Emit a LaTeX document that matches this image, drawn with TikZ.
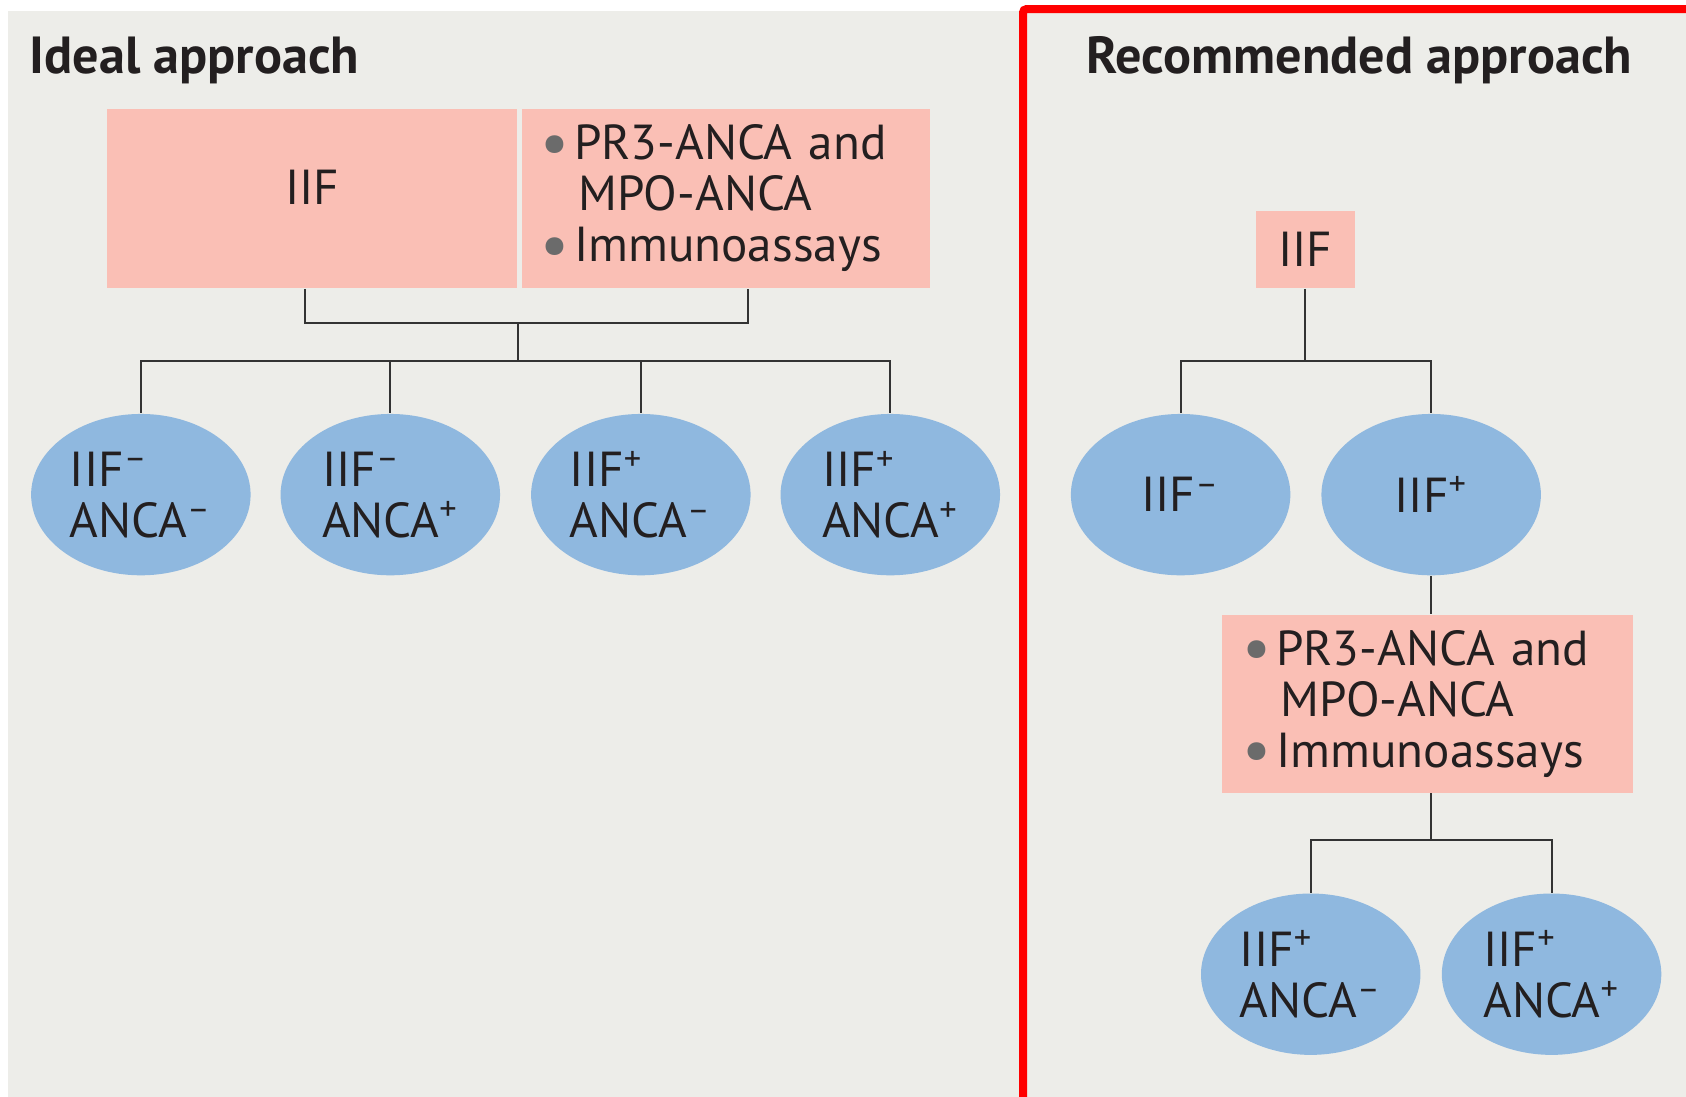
\documentclass[tikz,border=0pt]{standalone}
\usepackage{fontspec}
\setmainfont{PT Sans}
\usetikzlibrary{shapes.geometric}
\definecolor{panelgray}{HTML}{EDEDE9}
\definecolor{pinkfill}{HTML}{FABFB5}
\definecolor{bluefill}{HTML}{8FB8DF}
\definecolor{framered}{HTML}{FF0000}
\definecolor{linegray}{HTML}{333333}
\definecolor{dotgray}{HTML}{6B6B6B}
\definecolor{ink}{HTML}{231F20}
\newcommand{\mbul}{\makebox[0.29cm][l]{\hspace{-0.02cm}\raisebox{-0.09em}{\textcolor{dotgray}{\scalebox{1.3}{\textbullet}}}}}
\newcommand{\mneg}{\textsuperscript{–}}
\newcommand{\mpos}{\textsuperscript{+}}
\begin{document}
\begin{tikzpicture}[x=0.01cm,y=-0.01cm,font=\fontsize{13pt}{13.5pt}\selectfont,
    every node/.style={inner sep=0pt,text=ink},
    testbox/.style={fill=pinkfill,minimum height=1.67cm},
    listbox/.style={testbox,align=left,inner xsep=0.19cm},
    result/.style={ellipse,fill=bluefill,minimum width=2.04cm,minimum height=1.5cm,align=left},
    link/.style={draw=linegray,line width=0.55pt},
    heading/.style={anchor=base west,font=\fontsize{13.8pt}{14pt}\selectfont\bfseries}]
    \useasboundingbox (0,0) rectangle (1568,1020);
    \fill[panelgray] (7,10) rectangle (1568,1020);
    \draw[framered,line width=0.075cm,rounded corners=0.03cm] (951.5,1060) -- (951.5,8.5) -- (1620,8.5);
    % tieu de
    \path node[heading] (titleA) at (27,68) {Ideal approach}
          node[heading] (titleB) at (1010,68) {Recommended approach};
    % ben trai
    \path node[testbox,minimum width=3.81cm,text depth=0.2cm] (iifA) at (290.5,184.5) {IIF}
          node[listbox,text width=3.41cm] (testsA) at (675.5,184.5) {\mbul PR3-ANCA and\\\hspace*{0.33cm}MPO-ANCA\\\mbul Immunoassays};
    \foreach \i/\x/\mtext in {1/131/{IIF\mneg\\ANCA\mneg},2/363/{IIF\mneg\\ANCA\mpos},3/596/{IIF\mpos\\ANCA\mneg},4/828/{IIF\mpos\\ANCA\mpos}}
        \path node[result] (eA\i) at (\x,460) {\mtext};
    \coordinate (jA) at (482,300);
    \coordinate (kA) at (482,336);
    \draw[link] ([xshift=-0.07cm]iifA.south) |- (jA) -| ([xshift=0.2cm]testsA.south);
    \draw[link] (jA) -- (kA);
    \foreach \i in {1,...,4} \draw[link] (kA) -| (eA\i.north);
    % ben phai
    \path node[testbox,minimum width=0.92cm,minimum height=0.72cm] (iifB) at (1214,232) {IIF};
    \path node[result] (eB1) at (1098,460) {IIF\mneg}
          node[result] (eB2) at (1331,460) {IIF\mpos};
    \path node[listbox,text width=3.40cm,inner xsep=0.21cm,minimum height=1.65cm] (testsB) at (1328,654.5) {\mbul PR3-ANCA and\\\hspace*{0.33cm}MPO-ANCA\\\mbul Immunoassays};
    \path node[result] (eC1) at (1219,906) {IIF\mpos\\ANCA\mneg}
          node[result] (eC2) at (1443,906) {IIF\mpos\\ANCA\mpos};
    \coordinate (kB) at (1214,336);
    \coordinate (kC) at (1331,781);
    \draw[link] (iifB.south) -- (kB);
    \draw[link] (eB1.north) |- (kB) -| (eB2.north);
    \draw[link] (eB2.south) -- (eB2.south |- testsB.north);
    \draw[link] (testsB.south -| kC) -- (kC);
    \draw[link] (eC1.north) |- (kC) -| (eC2.north);
\end{tikzpicture}
\end{document}
